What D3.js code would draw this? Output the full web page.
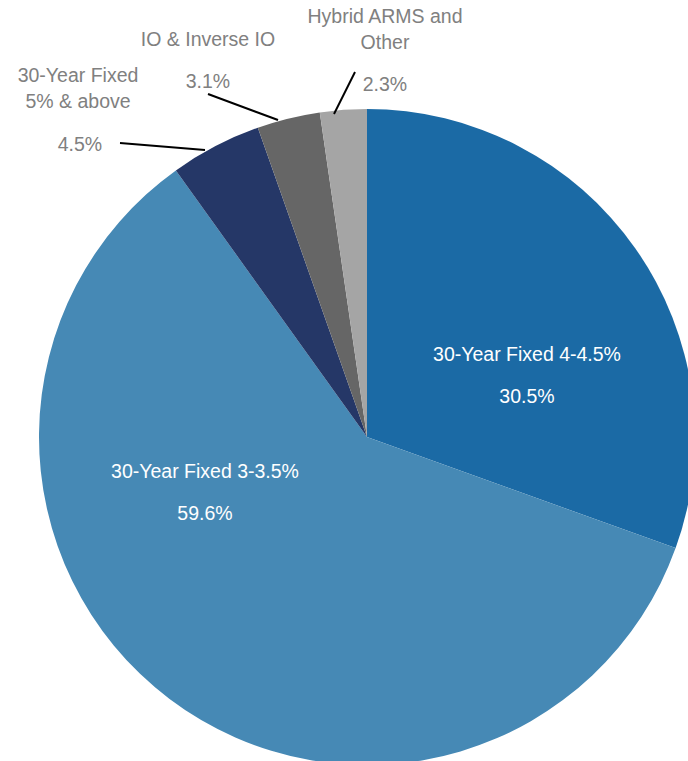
<!DOCTYPE html>
<html><head><meta charset="utf-8">
<script src="https://cdn.jsdelivr.net/npm/d3@7"></script>
<style>body{margin:0;background:#fff;overflow:hidden}svg{display:block}</style>
</head><body>
<svg id="c" width="688" height="761"></svg>
<script>
const categories = ["30-Year Fixed 4-4.5%","30-Year Fixed 3-3.5%","30-Year Fixed 5% & above","IO & Inverse IO","Hybrid ARMS and Other"];
const values = [30.5, 59.6, 4.5, 3.1, 2.3];
const colors = ["#1B6AA5","#4689B5","#253767","#666666","#A5A5A5"];
const valueLabels = ["30.5%","59.6%","4.5%","3.1%","2.3%"];

const W=688,H=761,cx=367,cy=437,R=328;
const svg=d3.select("#c");
const g=svg.append("g").attr("transform",`translate(${cx},${cy})`);
const pie=d3.pie().sort(null).value(d=>d);
const arcs=pie(values);
const arc=d3.arc().innerRadius(0).outerRadius(R);
g.selectAll("path").data(arcs).join("path").attr("d",arc).attr("fill",(d,i)=>colors[i]);

const font="'Liberation Sans', Arial, sans-serif";
const fs=19.5;
// inside labels
const inside=[{i:0,x:527,y1:361,y2:403},{i:1,x:205,y1:478,y2:520}];
inside.forEach(o=>{
  svg.append("text").attr("x",o.x).attr("y",o.y1).attr("text-anchor","middle").attr("fill","#fff")
    .attr("font-family",font).attr("font-size",fs).text(categories[o.i]);
  svg.append("text").attr("x",o.x).attr("y",o.y2).attr("text-anchor","middle").attr("fill","#fff")
    .attr("font-family",font).attr("font-size",fs).text(valueLabels[o.i]);
});
// outside labels
const outside=[
  {i:2,x:78,lines:["30-Year Fixed","5% & above"],ly:82,vx:80,vy:151,l:[[120,143],[205,150]]},
  {i:3,x:208,lines:["IO & Inverse IO"],ly:46,vx:208,vy:88,l:[[208,94],[278,120]]},
  {i:4,x:385,lines:["Hybrid ARMS and","Other"],ly:23,vx:385,vy:91,l:[[355,72],[334,114]]}
];
outside.forEach(o=>{
  o.lines.forEach((t,k)=>svg.append("text").attr("x",o.x).attr("y",o.ly+k*26).attr("text-anchor","middle")
    .attr("fill","#808080").attr("font-family",font).attr("font-size",fs).text(t));
  svg.append("text").attr("x",o.vx).attr("y",o.vy).attr("text-anchor","middle").attr("fill","#808080")
    .attr("font-family",font).attr("font-size",fs).text(valueLabels[o.i]);
  svg.append("line").attr("x1",o.l[0][0]).attr("y1",o.l[0][1]).attr("x2",o.l[1][0]).attr("y2",o.l[1][1])
    .attr("stroke","#000").attr("stroke-width",2);
});
</script>
</body></html>
